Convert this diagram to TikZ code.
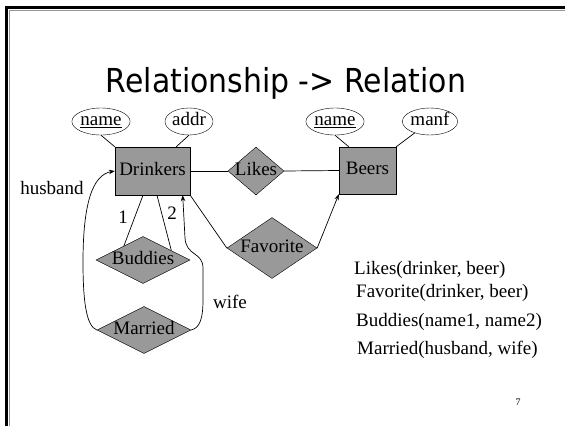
\documentclass[tikz,border=0pt]{standalone}
\usepackage{fontspec}
\usepackage{graphicx}
\setmainfont{Liberation Serif}
\newfontfamily\titlefont{DejaVu Sans}
\usetikzlibrary{shapes.geometric,arrows.meta,calc}
\definecolor{boxgray}{RGB}{153,153,153}
\definecolor{framegray}{RGB}{150,150,150}
\tikzset{
  every node/.style={font=\fontsize{19}{21}\selectfont},
  ent/.style={draw, fill=boxgray, inner sep=0pt, text height=12.5pt, text depth=4pt},
  rel/.style={draw, diamond, fill=boxgray, inner sep=0pt, text height=12.5pt, text depth=4pt},
  att/.style={draw, ellipse, fill=white, inner sep=0pt, minimum width=48pt, minimum height=27pt, text height=11.5pt, text depth=3.5pt},
  conn/.style={line width=0.7pt},
  arr/.style={line width=0.7pt, -{Stealth[length=6pt,width=4.5pt]}},
  lbl/.style={inner sep=0pt},
  rtext/.style={anchor=west, inner sep=0pt}
}
\begin{document}
\begin{tikzpicture}[x=1pt,y=-1pt]
\useasboundingbox (0,0) rectangle (565,426);
% frame
\draw[line width=3pt] (6.5,426) -- (6.5,7.5) -- (565,7.5);
\draw[framegray, line width=0.6pt] (9.5,426) -- (9.5,10.5) -- (565,10.5);
% title
\node[anchor=base, inner sep=0pt] (title) at (286,92) {\resizebox{360pt}{\height}{\titlefont\fontsize{33}{36}\selectfont Relationship -> Relation}};
% entities
\node[ent, minimum width=75pt, minimum height=48pt] (dr) at (152.5,171) {Drinkers};
\node[ent, minimum width=57pt, minimum height=47pt] (be) at (367.5,170.5) {Beers};
% attributes
\node[att] (dn) at (101,121.5) {\underline{name}};
\node[att] (ad) at (189,121.5) {addr};
\node[att] (bn) at (335,121.5) {\underline{name}};
\node[att] (mf) at (430,121.5) {manf};
% relationships
\node[rel, minimum width=56pt, minimum height=48pt] (li) at (256,171) {\makebox[0pt]{Likes}};
\node[rel, minimum width=90pt, minimum height=61pt] (fa) at (272,248) {\makebox[0pt]{Favorite}};
\node[rel, minimum width=94pt, minimum height=47pt] (bu) at (143,260) {\makebox[0pt]{Buddies}};
\node[rel, minimum width=94pt, minimum height=47pt] (ma) at (144,330) {\makebox[0pt]{Married}};
% attribute lines
\draw[conn] (dn.south) -- (dr.north west);
\draw[conn] (ad.south) -- ([xshift=-14pt]dr.north east);
\draw[conn] (bn.south) -- ([xshift=10pt]be.north west);
\draw[conn] (mf) -- (be.north east);
% relationship lines
\draw[conn] (dr.east) -- (li.west);
\draw[conn] (li.east) -- (be.west);
\draw[conn] (dr.south east) -- (fa.west);
\draw[arr] (fa.east) -- (be.south west);
\draw[conn] ([xshift=-9.5pt]dr.south) -- ($(bu.north)!0.404!(bu.west)$);
\draw[conn] ([xshift=4.5pt]dr.south) -- ($(bu.north)!0.6!(bu.east)$);
% role labels
\node[lbl] (l1) at (123,217) {1};
\node[lbl] (l2) at (172,213) {2};
\node[lbl] (hl) at (52,188) {husband};
\node[lbl] (wl) at (230,302) {wife};
% married arrows
\coordinate (wtip) at ([xshift=-7.5pt]dr.south east);
\draw[arr] (ma.east) .. controls (200,328) and (203,318) .. (203,300)
  -- (203,268) .. controls (203,252) and (186,256) .. (185,238) -- (wtip);
\draw[arr] (ma.west) .. controls (86,326) and (83,300) .. (83,262)
  .. controls (83,205) and (92,175) .. (dr.west);
% relations text
\node[rtext] (t1) at (354,270) {Likes(drinker, beer)};
\node[rtext] (t2) at (356,293) {Favorite(drinker, beer)};
\node[rtext] (t3) at (356,322) {Buddies(name1, name2)};
\node[rtext] (t4) at (357,350) {Married(husband, wife)};
\node[inner sep=0pt, font=\fontsize{10}{12}\selectfont] (pg) at (518,402) {7};
\end{tikzpicture}
\end{document}
